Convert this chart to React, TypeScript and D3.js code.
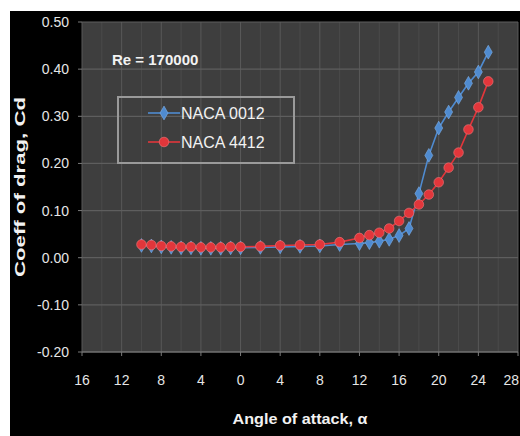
import React from 'react';
import * as d3 from 'd3';

// angle of attack (deg) and drag coefficient
const angles = [-10, -9, -8, -7, -6, -5, -4, -3, -2, -1, 0, 2, 4, 6, 8, 10, 12, 13, 14, 15, 16, 17, 18, 19, 20, 21, 22, 23, 24, 25];
const cdNaca0012 = [0.026, 0.025, 0.023, 0.022, 0.021, 0.021, 0.020, 0.020, 0.020, 0.021, 0.021, 0.022, 0.023, 0.024, 0.025, 0.028, 0.030, 0.032, 0.035, 0.039, 0.047, 0.062, 0.136, 0.217, 0.275, 0.309, 0.340, 0.370, 0.394, 0.436];
const cdNaca4412 = [0.028, 0.027, 0.025, 0.024, 0.023, 0.023, 0.022, 0.022, 0.022, 0.023, 0.023, 0.024, 0.026, 0.027, 0.028, 0.033, 0.042, 0.048, 0.053, 0.062, 0.078, 0.095, 0.113, 0.134, 0.160, 0.191, 0.223, 0.272, 0.319, 0.374];

const xTicks = [-16, -12, -8, -4, 0, 4, 8, 12, 16, 20, 24, 28];
const xTickLabels = ['16', '12', '8', '4', '0', '4', '8', '12', '16', '20', '24', '28'];
const yTicks = [0.5, 0.4, 0.3, 0.2, 0.1, 0, -0.1, -0.2];
const yTickLabels = ['0.50', '0.40', '0.30', '0.20', '0.10', '0.00', '-0.10', '-0.20'];
const seriesNames = ['NACA 0012', 'NACA 4412'];

const W = 520;
const H = 436;
const plot = { left: 82, right: 518, top: 22, bottom: 352 };
const BLUE = '#4f8bd0';
const RED = '#e2363b';

export default function App() {
  const x = d3.scaleLinear().domain([-16, 28]).range([plot.left, plot.right]);
  const y = d3.scaleLinear().domain([-0.2, 0.5]).range([plot.bottom, plot.top]);

  const line = d3.line<number>()
    .x((_, i) => x(angles[i]))
    .y(d => y(d));

  const minorX = d3.range(-16, 29, 2).filter(v => v % 4 !== 0);
  const diamond = d3.symbol().type(d3.symbolDiamond).size(55)() as string;

  const font = '"Liberation Sans", Arial, sans-serif';

  return (
    <svg width={W} height={H} style={{ position: 'absolute', left: 0, top: 0 }} fontFamily={font}>
      <rect x={0} y={0} width={W} height={H} fill="#fff" />
      <rect x={10} y={11} width={W - 10} height={H - 11} fill="#000" />

      {/* plot area */}
      <rect x={plot.left} y={plot.top} width={plot.right - plot.left} height={plot.bottom - plot.top} fill="#3e3e3e" />
      {minorX.map(v => (
        <line key={'mx' + v} x1={x(v)} x2={x(v)} y1={plot.top} y2={plot.bottom} stroke="#4b4b4b" strokeWidth={1} />
      ))}
      {xTicks.map(v => (
        <line key={'gx' + v} x1={x(v)} x2={x(v)} y1={plot.top} y2={plot.bottom} stroke="#595959" strokeWidth={1} />
      ))}
      {yTicks.map(v => (
        <line key={'gy' + v} x1={plot.left} x2={plot.right} y1={y(v)} y2={y(v)} stroke="#5e5e5e" strokeWidth={1.2} />
      ))}

      {/* axes */}
      <line x1={plot.left} x2={plot.right} y1={plot.bottom} y2={plot.bottom} stroke="#7a7a7a" />
      {xTicks.map(v => (
        <line key={'tx' + v} x1={x(v)} x2={x(v)} y1={plot.bottom} y2={plot.bottom + 4} stroke="#7a7a7a" />
      ))}
      {yTicks.map(v => (
        <line key={'ty' + v} x1={plot.left - 4} x2={plot.left} y1={y(v)} y2={y(v)} stroke="#7a7a7a" />
      ))}
      {xTicks.map((v, i) => (
        <text key={'lx' + v} x={i === xTicks.length - 1 ? W - 1 : x(v)} y={385}
          textAnchor={i === xTicks.length - 1 ? 'end' : 'middle'} fontSize={14} fill="#e6e6e6">{xTickLabels[i]}</text>
      ))}
      {yTicks.map((v, i) => (
        <text key={'ly' + v} x={69} y={y(v) + 5} textAnchor="end" fontSize={14} fill="#e6e6e6">{yTickLabels[i]}</text>
      ))}

      {/* series */}
      <path d={line(cdNaca0012) ?? ''} fill="none" stroke={BLUE} strokeWidth={1.6} />
      {cdNaca0012.map((d, i) => (
        <path key={'b' + i} d={diamond} transform={`translate(${x(angles[i])},${y(d)})`} fill={BLUE} stroke="#7fb0e8" strokeWidth={0.6} />
      ))}
      <path d={line(cdNaca4412) ?? ''} fill="none" stroke={RED} strokeWidth={1.6} />
      {cdNaca4412.map((d, i) => (
        <circle key={'r' + i} cx={x(angles[i])} cy={y(d)} r={4.8} fill={RED} stroke="#f07a7c" strokeWidth={0.6} />
      ))}

      {/* annotation + legend */}
      <text x={112} y={65} fontSize={15} fontWeight="bold" fill="#f2f2f2">Re = 170000</text>
      <rect x={118} y={97} width={176} height={66} fill="none" stroke="#9a9a9a" strokeWidth={2} />
      <line x1={148} x2={180} y1={113} y2={113} stroke={BLUE} strokeWidth={1.6} />
      <path d={diamond} transform="translate(164,113)" fill={BLUE} stroke="#7fb0e8" strokeWidth={0.6} />
      <text x={181} y={119} fontSize={16} fill="#f2f2f2">{seriesNames[0]}</text>
      <line x1={148} x2={180} y1={142} y2={142} stroke={RED} strokeWidth={1.6} />
      <circle cx={164} cy={142} r={4.8} fill={RED} stroke="#f07a7c" strokeWidth={0.6} />
      <text x={181} y={148} fontSize={16} fill="#f2f2f2">{seriesNames[1]}</text>

      {/* axis titles */}
      <text x={300} y={424} textAnchor="middle" fontSize={15} fontWeight="bold" fill="#f2f2f2"
        textLength={135} lengthAdjust="spacingAndGlyphs">Angle of attack, α</text>
      <text transform={`translate(25,${(plot.top + plot.bottom) / 2}) rotate(-90)`} textAnchor="middle" fontSize={15}
        fontWeight="bold" fill="#f2f2f2" textLength={180} lengthAdjust="spacingAndGlyphs">Coeff of drag, Cd</text>
    </svg>
  );
}
